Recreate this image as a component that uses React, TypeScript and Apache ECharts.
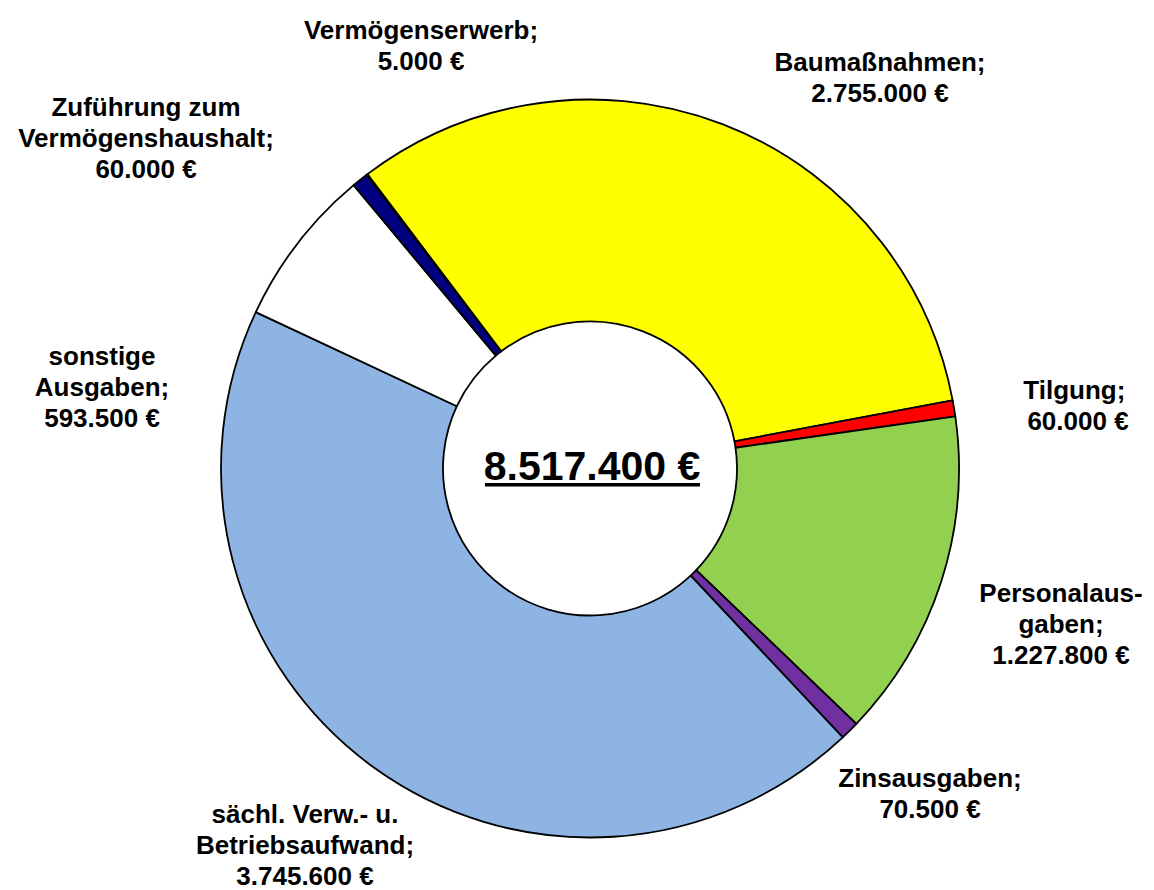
import React, { useEffect, useRef } from "react";
import * as echarts from "echarts";

const categories = [
  "Vermögenserwerb",
  "Baumaßnahmen",
  "Tilgung",
  "Personalausgaben",
  "Zinsausgaben",
  "sächl. Verw.- u. Betriebsaufwand",
  "sonstige Ausgaben",
  "Zuführung zum Vermögenshaushalt",
];
const labelTexts = [
  "Vermögenserwerb;",
  "Baumaßnahmen;",
  "Tilgung; ",
  "Personalaus-\ngaben;",
  "Zinsausgaben;",
  "sächl. Verw.- u.\nBetriebsaufwand;",
  "sonstige\nAusgaben;",
  "Zuführung zum\nVermögenshaushalt;",
];
const values = [5000, 2755000, 60000, 1227800, 70500, 3745600, 593500, 60000];
const colors = ["#000000", "#FFFF00", "#FF0000", "#92D050", "#7030A0", "#8EB4E3", "#FFFFFF", "#000080"];

// label anchor positions (block centres, px)
const labelPos: [number, number][] = [
  [421, 45],
  [880, 77],
  [1078, 405],
  [1061, 624],
  [930, 793],
  [305, 845],
  [102, 387],
  [146, 138],
];

const fmt = (n: number) => String(n).replace(/\B(?=(\d{3})+(?!\d))/g, ".");
const FONT = "'Liberation Sans', Arial, Helvetica, sans-serif";

export default function App() {
  const ref = useRef<HTMLDivElement>(null);
  useEffect(() => {
    if (!ref.current) return;
    const chart = echarts.init(ref.current, null, { renderer: "svg" });
    const total = values.reduce((a, b) => a + b, 0);
    chart.setOption({
      animation: false,
      backgroundColor: "#FFFFFF",
      series: [
        {
          type: "pie",
          center: [590, 468.5],
          radius: [147, 369],
          startAngle: 127.3,
          clockwise: true,
          avoidLabelOverlap: false,
          data: categories.map((c, i) => ({
            name: c,
            value: values[i],
            itemStyle: { color: colors[i] },
          })),
          itemStyle: { borderColor: "#000000", borderWidth: 1.8 },
          label: {
            show: true,
            position: "outside",
            formatter: (p: any) => `${labelTexts[p.dataIndex]}\n${fmt(p.value)} €`,
            color: "#000000",
            fontFamily: FONT,
            fontWeight: "bold",
            fontSize: 26,
            lineHeight: 31,
            align: "center",
          },
          labelLine: { show: false },
          labelLayout: (params: any) => {
            const p = labelPos[params.dataIndex];
            return { x: p[0], y: p[1], align: "center", verticalAlign: "middle" };
          },
          emphasis: { disabled: true },
        },
      ],
      graphic: [
        {
          type: "text",
          x: 592,
          y: 466,
          style: {
            text: `${fmt(total)} €`,
            fontFamily: FONT,
            fontWeight: "bold",
            fontSize: 41,
            fill: "#000000",
            align: "center",
            verticalAlign: "middle",
          },
        },
        {
          type: "rect",
          shape: { x: 485, y: 483, width: 215, height: 3.5 },
          style: { fill: "#000000" },
        },
      ],
    });
    return () => chart.dispose();
  }, []);
  return (
    <div
      ref={ref}
      style={{ position: "absolute", left: 0, top: 0, width: 1154, height: 890 }}
    />
  );
}
